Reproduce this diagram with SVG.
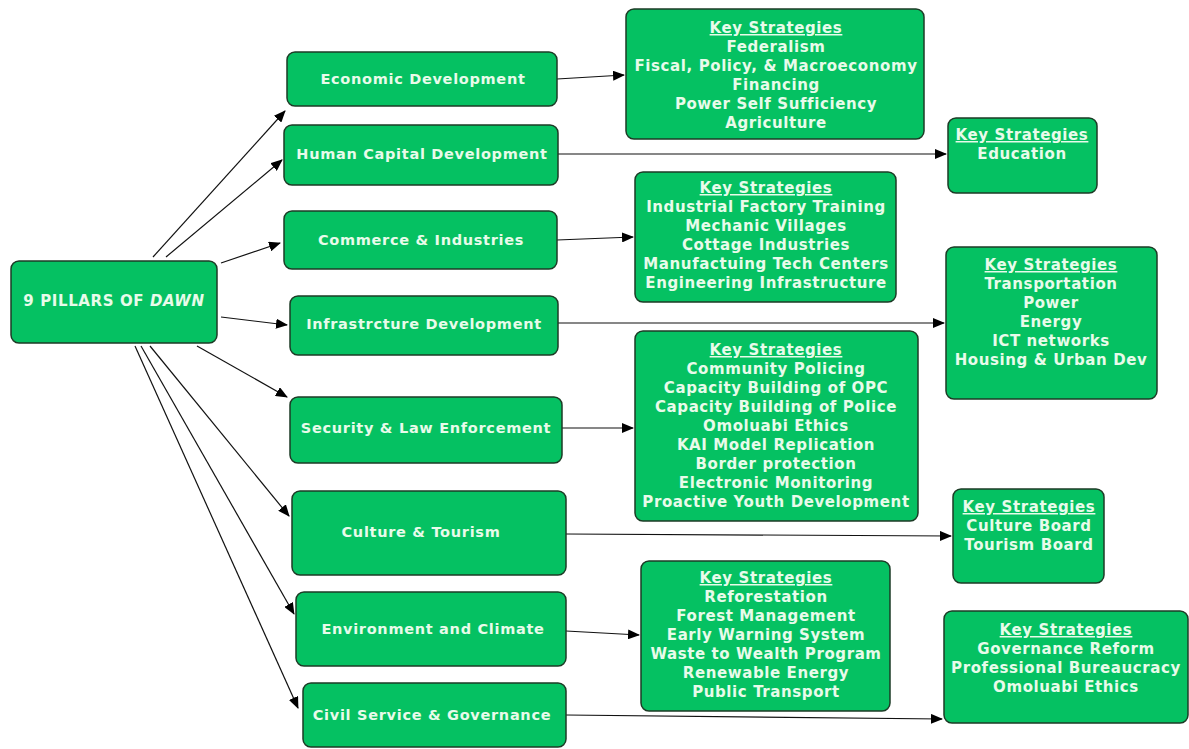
<svg xmlns="http://www.w3.org/2000/svg" width="1189" height="749" viewBox="0 0 1189 749">
<defs>
<marker id="ah" markerUnits="userSpaceOnUse" markerWidth="12" markerHeight="10" refX="11" refY="5" orient="auto">
<path d="M0,0 L12,5 L0,10 Z" fill="#000"/>
</marker>
<style>
.box{fill:#05c162;stroke:#1d3b26;stroke-width:1.5}
.t{font-family:"DejaVu Sans",Verdana,sans-serif;font-weight:bold;fill:#e8fbea;text-anchor:middle}
.p{font-size:14.5px;letter-spacing:0.7px}
.r{font-size:15px;letter-spacing:0.6px}
.s{font-size:15px;letter-spacing:0.6px}
.u{text-decoration:underline}
.c{stroke:#111;stroke-width:1.2;fill:none;marker-end:url(#ah)}
</style>
</defs>
<rect width="1189" height="749" fill="#fff"/>
<g id="connectors">
<line class="c" x1="153" y1="257" x2="285" y2="111"/>
<line class="c" x1="166" y1="257" x2="282" y2="160"/>
<line class="c" x1="221" y1="263" x2="280" y2="243"/>
<line class="c" x1="221" y1="317" x2="287" y2="325"/>
<line class="c" x1="197" y1="346" x2="287" y2="397"/>
<line class="c" x1="150" y1="346" x2="289" y2="516"/>
<line class="c" x1="141" y1="346" x2="294" y2="614"/>
<line class="c" x1="135" y1="346" x2="298" y2="708"/>
<line class="c" x1="557" y1="79" x2="624" y2="75"/>
<line class="c" x1="558" y1="154" x2="946" y2="154"/>
<line class="c" x1="557" y1="240" x2="633" y2="237"/>
<line class="c" x1="558" y1="323" x2="944" y2="323"/>
<line class="c" x1="562" y1="428" x2="633" y2="428"/>
<line class="c" x1="566" y1="534" x2="951" y2="536"/>
<line class="c" x1="566" y1="631" x2="639" y2="635"/>
<line class="c" x1="566" y1="715" x2="942" y2="719"/>
</g>
<g id="root">
<rect class="box" x="11" y="261" width="206" height="82" rx="8"/>
<text class="t r" x="114" y="306">9 PILLARS OF <tspan font-style="italic">DAWN</tspan></text>
</g>
<g id="p-economic">
<rect class="box" x="287" y="52" width="270" height="54" rx="8"/>
<text class="t p" x="423" y="84">Economic Development</text>
</g>
<g id="p-human">
<rect class="box" x="284" y="125" width="274" height="60" rx="8"/>
<text class="t p" x="422" y="159">Human Capital Development</text>
</g>
<g id="p-commerce">
<rect class="box" x="284" y="211" width="273" height="58" rx="8"/>
<text class="t p" x="421" y="245">Commerce &amp; Industries</text>
</g>
<g id="p-infra">
<rect class="box" x="290" y="296" width="268" height="59" rx="8"/>
<text class="t p" x="424" y="329">Infrastrcture Development</text>
</g>
<g id="p-security">
<rect class="box" x="290" y="397" width="272" height="66" rx="8"/>
<text class="t p" x="426" y="433">Security &amp; Law Enforcement</text>
</g>
<g id="p-culture">
<rect class="box" x="292" y="491" width="274" height="84" rx="8"/>
<text class="t p" x="421" y="537">Culture &amp; Tourism</text>
</g>
<g id="p-environment">
<rect class="box" x="296" y="592" width="270" height="74" rx="8"/>
<text class="t p" x="433" y="634">Environment and Climate</text>
</g>
<g id="p-civil">
<rect class="box" x="303" y="683" width="263" height="64" rx="8"/>
<text class="t p" x="432" y="720">Civil Service &amp; Governance</text>
</g>
<g id="s-economic">
<rect class="box" x="626" y="9" width="298" height="130" rx="8"/>
<text class="t s" x="776" y="33"><tspan class="u">Key Strategies</tspan><tspan x="776" dy="19">Federalism</tspan><tspan x="776" dy="19">Fiscal, Policy, &amp; Macroeconomy</tspan><tspan x="776" dy="19">Financing</tspan><tspan x="776" dy="19">Power Self Sufficiency</tspan><tspan x="776" dy="19">Agriculture</tspan></text>
</g>
<g id="s-human">
<rect class="box" x="948" y="118" width="149" height="75" rx="8"/>
<text class="t s" x="1022" y="140"><tspan class="u">Key Strategies</tspan><tspan x="1022" dy="19">Education</tspan></text>
</g>
<g id="s-commerce">
<rect class="box" x="635" y="172" width="261" height="130" rx="8"/>
<text class="t s" x="766" y="193"><tspan class="u">Key Strategies</tspan><tspan x="766" dy="19">Industrial Factory Training</tspan><tspan x="766" dy="19">Mechanic Villages</tspan><tspan x="766" dy="19">Cottage Industries</tspan><tspan x="766" dy="19">Manufactuing Tech Centers</tspan><tspan x="766" dy="19">Engineering Infrastructure</tspan></text>
</g>
<g id="s-infra">
<rect class="box" x="946" y="247" width="211" height="152" rx="8"/>
<text class="t s" x="1051" y="270"><tspan class="u">Key Strategies</tspan><tspan x="1051" dy="19">Transportation</tspan><tspan x="1051" dy="19">Power</tspan><tspan x="1051" dy="19">Energy</tspan><tspan x="1051" dy="19">ICT networks</tspan><tspan x="1051" dy="19">Housing &amp; Urban Dev</tspan></text>
</g>
<g id="s-security">
<rect class="box" x="635" y="331" width="283" height="190" rx="8"/>
<text class="t s" x="776" y="355"><tspan class="u">Key Strategies</tspan><tspan x="776" dy="19">Community Policing</tspan><tspan x="776" dy="19">Capacity Building of OPC</tspan><tspan x="776" dy="19">Capacity Building of Police</tspan><tspan x="776" dy="19">Omoluabi Ethics</tspan><tspan x="776" dy="19">KAI Model Replication</tspan><tspan x="776" dy="19">Border protection</tspan><tspan x="776" dy="19">Electronic Monitoring</tspan><tspan x="776" dy="19">Proactive Youth Development</tspan></text>
</g>
<g id="s-culture">
<rect class="box" x="953" y="489" width="151" height="94" rx="8"/>
<text class="t s" x="1029" y="512"><tspan class="u">Key Strategies</tspan><tspan x="1029" dy="19">Culture Board</tspan><tspan x="1029" dy="19">Tourism Board</tspan></text>
</g>
<g id="s-environment">
<rect class="box" x="641" y="561" width="249" height="150" rx="8"/>
<text class="t s" x="766" y="583"><tspan class="u">Key Strategies</tspan><tspan x="766" dy="19">Reforestation</tspan><tspan x="766" dy="19">Forest Management</tspan><tspan x="766" dy="19">Early Warning System</tspan><tspan x="766" dy="19">Waste to Wealth Program</tspan><tspan x="766" dy="19">Renewable Energy</tspan><tspan x="766" dy="19">Public Transport</tspan></text>
</g>
<g id="s-civil">
<rect class="box" x="944" y="611" width="244" height="112" rx="8"/>
<text class="t s" x="1066" y="635"><tspan class="u">Key Strategies</tspan><tspan x="1066" dy="19">Governance Reform</tspan><tspan x="1066" dy="19">Professional Bureaucracy</tspan><tspan x="1066" dy="19">Omoluabi Ethics</tspan></text>
</g>
</svg>
